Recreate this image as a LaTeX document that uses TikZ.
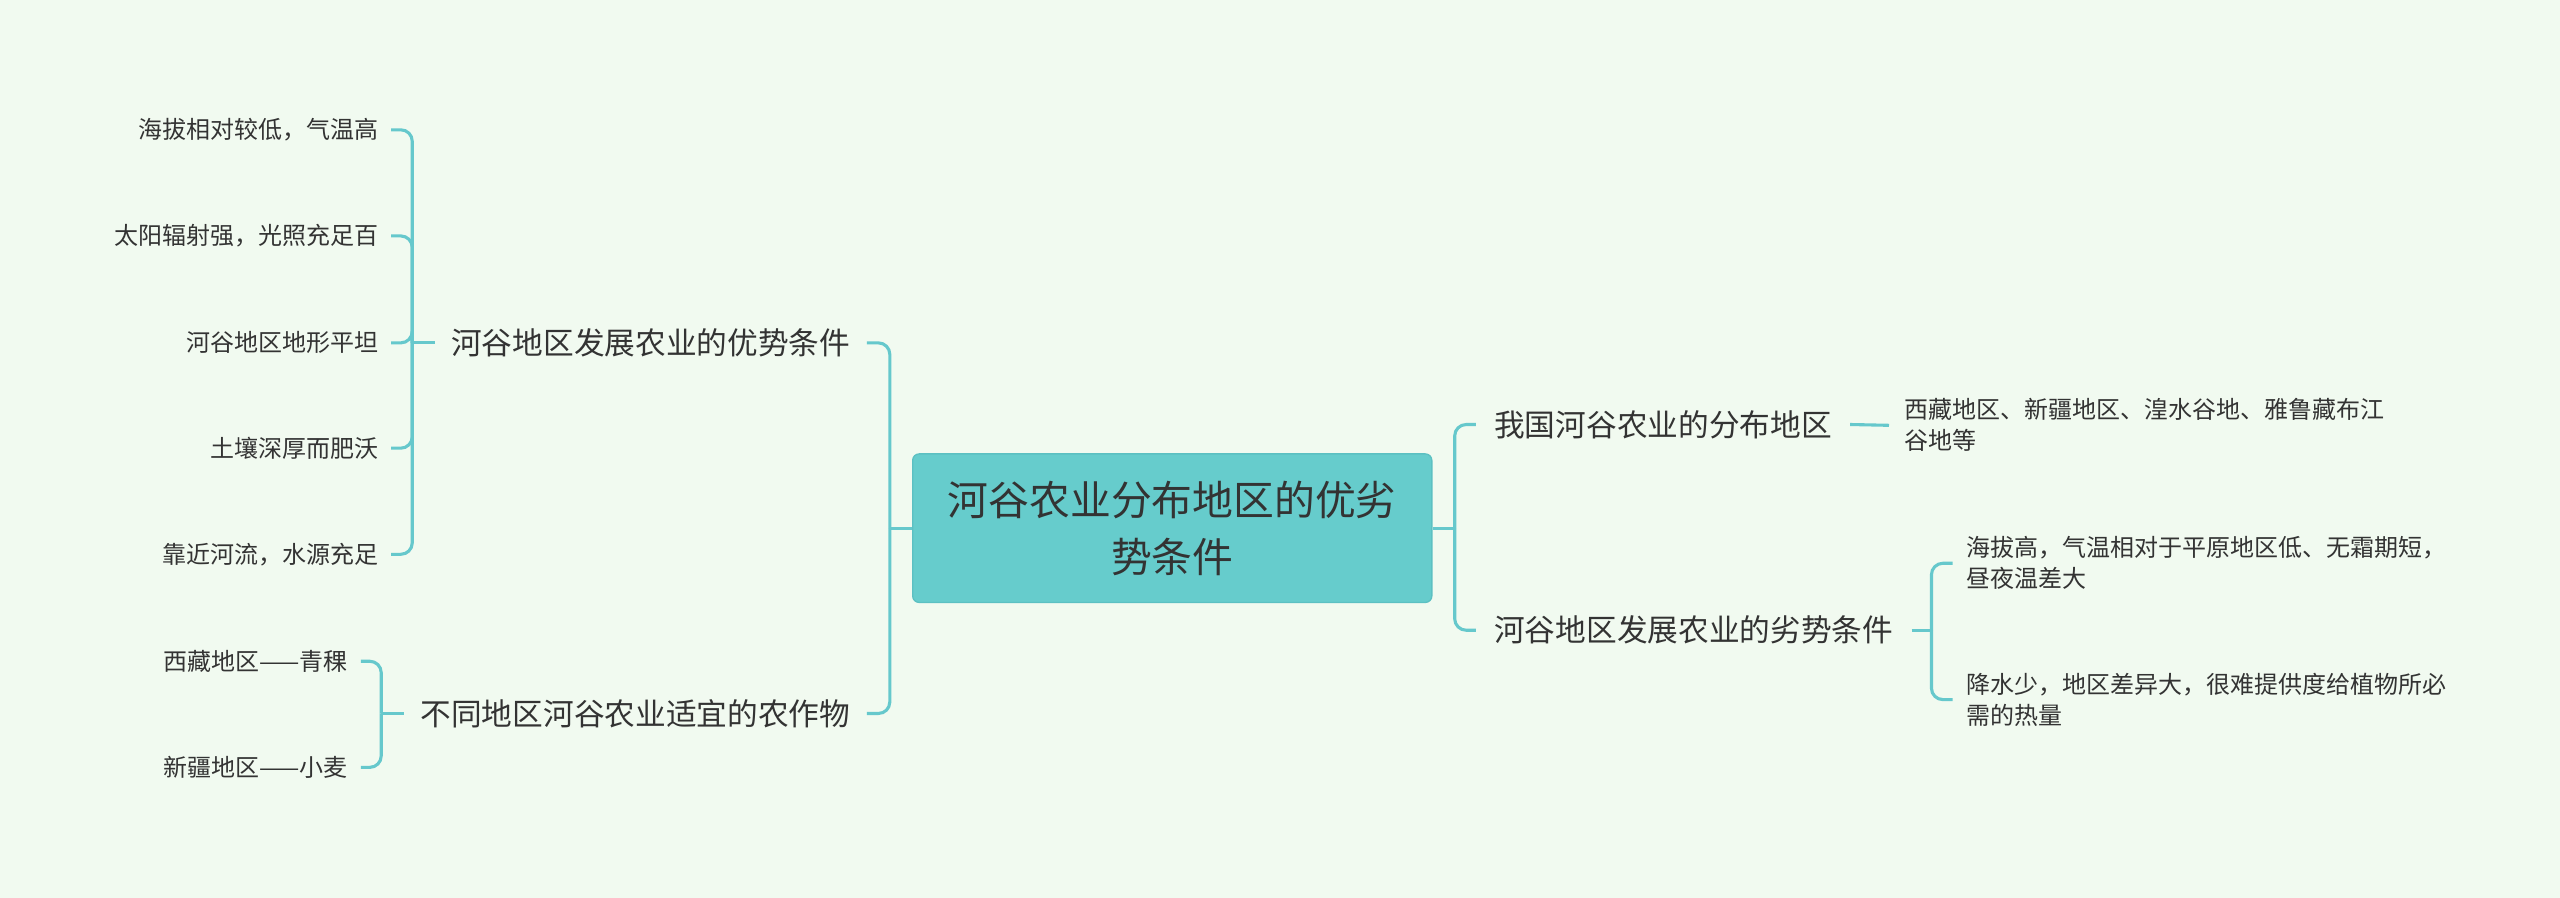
\documentclass[tikz,border=0pt]{standalone}
\usepackage{fontspec}
\setmainfont{Noto Sans CJK SC}
\definecolor{bgc}{HTML}{F1FAF0}
\definecolor{rootfill}{HTML}{66CCCC}
\definecolor{rootline}{HTML}{5CC0C2}
\definecolor{linkc}{HTML}{66C8CC}
\definecolor{txt}{HTML}{333333}
\tikzset{
  root/.style={draw=rootline, line width=0.8pt, fill=rootfill, rounded corners=4pt,
    minimum width=318pt, minimum height=91pt, align=center, text=txt,
    font=\fontsize{25}{35}\selectfont},
  topic/.style={text=txt, inner ysep=2pt, font=\fontsize{18.8}{24}\selectfont},
  leaf/.style={text=txt, inner ysep=2pt, align=left, font=\fontsize{14.7}{19}\selectfont},
  link/.style={draw=linkc, line width=1.9pt, rounded corners=7pt}
}
\begin{document}
\begin{tikzpicture}[x=1pt,y=-1pt]
	\fill[bgc] (0,0) rectangle (1568,550);
	\useasboundingbox (0,0) rectangle (1568,550);

	\node[root] (root) at (718,323.5) {河谷农业分布地区的优劣\\势条件};

	% left side
	\node[topic, anchor=east, inner xsep=10pt] (adv) at (531,210) {河谷地区发展农业的优势条件};
	\node[topic, anchor=east, inner xsep=10pt] (crop) at (531,437) {不同地区河谷农业适宜的农作物};
	\node[leaf, anchor=east, inner xsep=7.5pt] (a1) at (239.5,79.5) {海拔相对较低，气温高};
	\node[leaf, anchor=east, inner xsep=7.5pt] (a2) at (239.5,144.5) {太阳辐射强，光照充足百};
	\node[leaf, anchor=east, inner xsep=7.5pt] (a3) at (239.5,210) {河谷地区地形平坦};
	\node[leaf, anchor=east, inner xsep=7.5pt] (a4) at (239.5,274.5) {土壤深厚而肥沃};
	\node[leaf, anchor=east, inner xsep=7.5pt] (a5) at (239.5,339.5) {靠近河流，水源充足};
	\node[leaf, anchor=east, inner xsep=8pt] (c1) at (221,405) {西藏地区——青稞};
	\node[leaf, anchor=east, inner xsep=8pt] (c2) at (221,470) {新疆地区——小麦};

	% right side
	\node[topic, anchor=west, inner xsep=11pt] (area) at (904,260) {我国河谷农业的分布地区};
	\node[topic, anchor=west, inner xsep=11pt] (dis) at (904,386) {河谷地区发展农业的劣势条件};
	\node[leaf, anchor=west, inner xsep=9pt] (r1) at (1157,260.5) {西藏地区、新疆地区、湟水谷地、雅鲁藏布江\\谷地等};
	\node[leaf, anchor=west, inner xsep=8pt] (d1) at (1196,345) {海拔高，气温相对于平原地区低、无霜期短，\\昼夜温差大};
	\node[leaf, anchor=west, inner xsep=8pt] (d2) at (1196,428.5) {降水少，地区差异大，很难提供度给植物所必\\需的热量};

	\coordinate (jl) at (545,323.5);
	\coordinate (jr) at (891,323.5);
	\coordinate (jadv) at (252.5,210);
	\coordinate (jcrop) at (233.5,437);
	\coordinate (jdis) at (1183,386);

	\draw[link] (root.west) -- (jl);
	\draw[link] (adv.east) -| (jl);
	\draw[link] (crop.east) -| (jl);
	\draw[link] (root.east) -- (jr);
	\draw[link] (area.west) -| (jr);
	\draw[link] (dis.west) -| (jr);

	\draw[link] (adv.west) -- (jadv);
	\foreach \n in {a1,a2,a3,a4,a5}
		\draw[link] (\n.east) -| (jadv);
	\draw[link] (crop.west) -- (jcrop);
	\foreach \n in {c1,c2}
		\draw[link] (\n.east) -| (jcrop);

	\draw[link] (area.east) -- (r1.west);
	\draw[link] (dis.east) -- (jdis);
	\foreach \n in {d1,d2}
		\draw[link] (\n.west) -| (jdis);
\end{tikzpicture}
\end{document}
